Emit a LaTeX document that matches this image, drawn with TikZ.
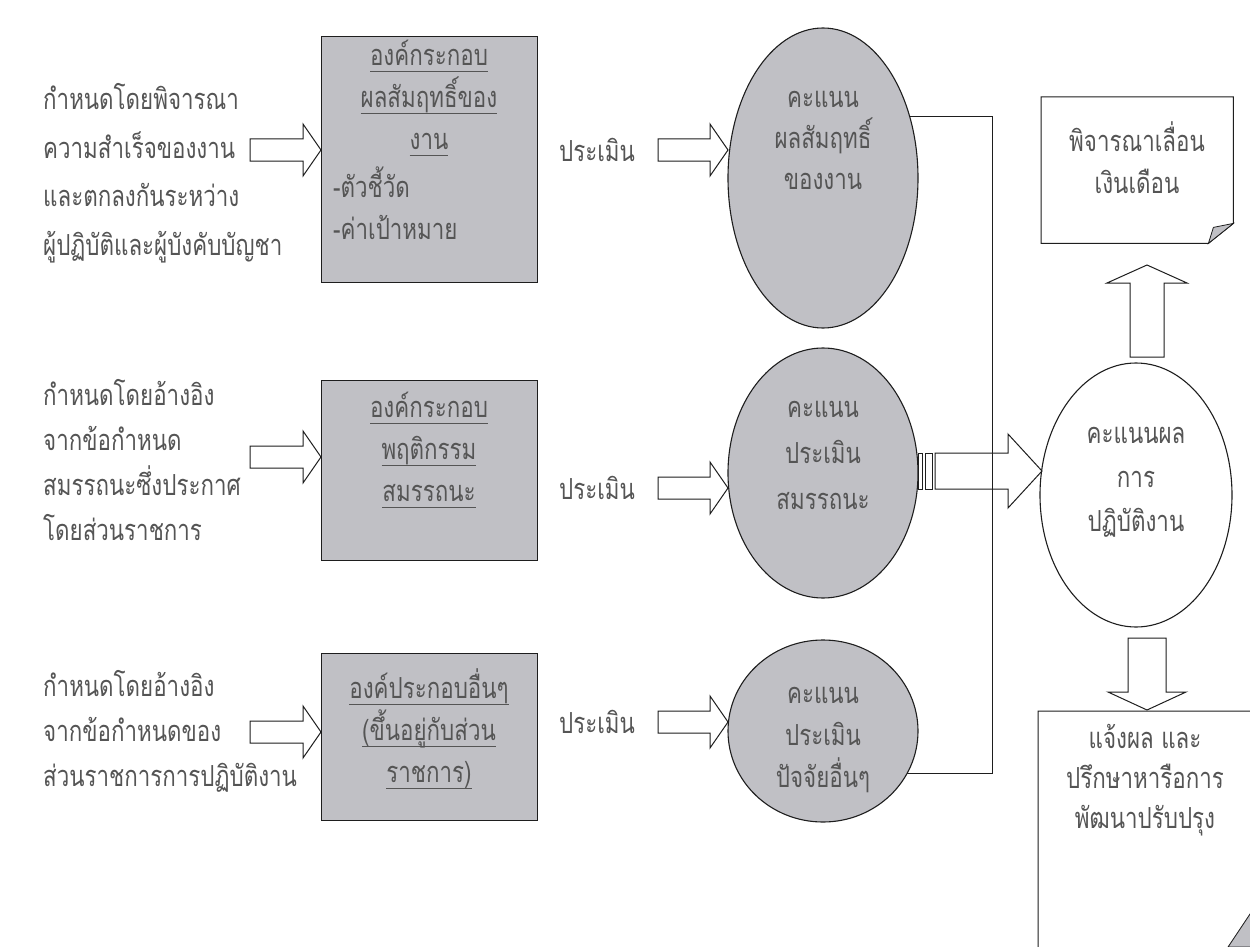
\documentclass[tikz,border=0pt]{standalone}
\usepackage{fontspec}
\newfontfamily\thaif[Script=Thai, FakeStretch=0.77]{Loma}
\usetikzlibrary{shapes.geometric,calc}
\definecolor{boxgray}{RGB}{192,192,197}
\definecolor{txtc}{RGB}{85,85,85}
\definecolor{lnc}{RGB}{30,30,30}
\newcommand\ulx[1]{\setbox0\hbox{#1}\rlap{\rule[-6pt]{\wd0}{0.9pt}}\box0}
% horizontal block arrow: xstart, xheadbase, xtip, y, shaft half, head half
\newcommand\harrow[6]{\draw[blk] (#1,#4-#5) -- (#2,#4-#5) -- (#2,#4-#6) -- (#3,#4) -- (#2,#4+#6) -- (#2,#4+#5) -- (#1,#4+#5) -- cycle;}
% vertical block arrow: ystart, yheadbase, ytip, x, shaft half, head half
\newcommand\varrow[6]{\draw[blk] (#4-#5,#1) -- (#4-#5,#2) -- (#4-#6,#2) -- (#4,#3) -- (#4+#6,#2) -- (#4+#5,#2) -- (#4+#5,#1) -- cycle;}
\begin{document}
\begin{tikzpicture}[x=1pt,y=-1pt,
  tx/.style={font=\thaif\fontsize{29}{42}\selectfont, text=txtc, inner sep=0pt},
  txl/.style={tx, align=left, anchor=west},
  gbox/.style={draw=lnc, line width=1.1pt, fill=boxgray, inner sep=0pt, anchor=north west},
  gell/.style={ellipse, draw=lnc, line width=1.1pt, fill=boxgray, inner sep=0pt},
  blk/.style={draw=lnc, line width=1pt, fill=white},
  ln/.style={draw=lnc, line width=1pt}]
\useasboundingbox (0,0) rectangle (1250,947);
\clip (0,0) rectangle (1250,947);
\fill[white] (0,0) rectangle (1250,947);

% left source texts
\node[txl, font=\thaif\fontsize{29}{48.5}\selectfont] (s1) at (43,173) {กำหนดโดยพิจารณา\\ความสำเร็จของงาน\\และตกลงกันระหว่าง\\ผู้ปฏิบัติและผู้บังคับบัญชา};
\node[txl, font=\thaif\fontsize{29}{45}\selectfont] (s2) at (43,460) {กำหนดโดยอ้างอิง\\จากข้อกำหนด\\สมรรถนะซึ่งประกาศ\\โดยส่วนราชการ};
\node[txl, font=\thaif\fontsize{29}{45}\selectfont] (s3) at (43,731) {กำหนดโดยอ้างอิง\\จากข้อกำหนดของ\\ส่วนราชการการปฏิบัติงาน};

% component boxes
\node[gbox, minimum width=216, minimum height=246] (b1) at (321,36) {};
\node[gbox, minimum width=216, minimum height=180] (b2) at (321,380) {};
\node[gbox, minimum width=216, minimum height=167] (b3) at (321,653) {};
\node[tx, align=center] (b1t) at (429,98) {\ulx{องค์กระกอบ}\\\ulx{ผลสัมฤทธิ์ของ}\\\ulx{งาน}};
\node[tx, align=left, anchor=west] (b1l) at (333,203) {-ตัวชี้วัด\\-ค่าเป้าหมาย};
\node[tx, align=center] (b2t) at (429,450) {\ulx{องค์กระกอบ}\\\ulx{พฤติกรรม}\\\ulx{สมรรถนะ}};
\node[tx, align=center] (b3t) at (429,729) {\ulx{องค์ประกอบอื่นๆ}\\\ulx{(ขึ้นอยู่กับส่วน}\\\ulx{ราชการ)}};

% arrows from sources to boxes
\harrow{250}{303}{321}{150}{11}{26}
\harrow{250}{303}{321}{457}{11}{26}
\harrow{250}{303}{321}{732}{11}{26}

% evaluate labels
\node[tx] (p1) at (597,150) {ประเมิน};
\node[tx] (p2) at (597,488) {ประเมิน};
\node[tx] (p3) at (597,722) {ประเมิน};

% score ellipses
\node[gell, minimum width=190, minimum height=300] (e1) at (823,178) {};
\node[gell, minimum width=190, minimum height=250] (e2) at (823,473) {};
\node[gell, minimum width=190, minimum height=182] (e3) at (823,731) {};
\node[tx, align=center, font=\thaif\fontsize{29}{41}\selectfont] (e1t) at (823,140) {คะแนน\\ผลสัมฤทธิ์\\ของงาน};
\node[tx, align=center, font=\thaif\fontsize{29}{46}\selectfont] (e2t) at (823,455) {คะแนน\\ประเมิน\\สมรรถนะ};
\node[tx, align=center, font=\thaif\fontsize{29}{42}\selectfont] (e3t) at (823,740) {คะแนน\\ประเมิน\\ปัจจัยอื่นๆ};

\harrow{658}{710}{728}{150}{11}{26}
\harrow{658}{710}{728}{488}{11}{26}
\harrow{658}{710}{728}{722}{11}{26}

% result ellipse
\node[ellipse, draw=lnc, line width=1.1pt, fill=white, inner sep=0pt, minimum width=192, minimum height=264] (res) at (1136,495) {};
\node[tx, align=center, font=\thaif\fontsize{29}{44}\selectfont] (rest) at (1136,482) {คะแนนผล\\การ\\ปฏิบัติงาน};

% striped arrow from e2 to result
\draw[ln] (918,453) rectangle (922,489);
\draw[ln] (925,453) rectangle (932,489);
\harrow{935}{1008}{1042}{471}{18}{37}

% bracket line joining the scores
\coordinate (jt) at (992,123);
\draw[ln] (e1.35) -| (jt |- e3.-27) -- (e3.-27);

% note: salary
\node[inner sep=0pt, minimum width=192, minimum height=146, anchor=north west] (n1) at (1041,97) {};
\draw[ln] (n1.north west) -- (n1.north east) -- ($(n1.south east)+(0,-20)$) -- ($(n1.south east)+(-25,0)$) -- (n1.south west) -- cycle;
\filldraw[ln, fill=boxgray, line width=0.8pt] ($(n1.south east)+(0,-20)$) -- ($(n1.south east)+(-25,0)$) -- ($(n1.south east)+(-20,-16)$) -- cycle;
\node[tx, align=center] (n1t) at (1137,158) {พิจารณาเลื่อน\\เงินเดือน};

% note: feedback
\node[inner sep=0pt, minimum width=224, minimum height=264, anchor=north west] (n2) at (1038,711) {};
\draw[ln] (n2.north west) -- (n2.north east) -- ($(n2.south east)+(0,-50)$) -- ($(n2.south east)+(-40,0)$) -- (n2.south west) -- cycle;
\filldraw[ln, fill=boxgray, line width=0.8pt] (1252,911) -- (1228,947) -- (1252,947) -- cycle;
\node[tx, align=center, font=\thaif\fontsize{29}{40}\selectfont] (n2t) at (1145,780) {แจ้งผล และ\\ปรึกษาหารือการ\\พัฒนาปรับปรุง};

% up and down arrows
\varrow{357}{283}{265}{1147}{17}{40}
\varrow{638}{692}{710}{1147}{19}{39}
\end{tikzpicture}
\end{document}
